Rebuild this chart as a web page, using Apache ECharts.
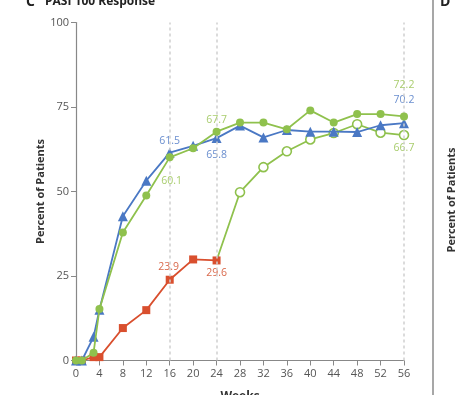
<!DOCTYPE html>
<html>
<head>
<meta charset="utf-8">
<script src="https://cdn.jsdelivr.net/npm/echarts@6/dist/echarts.min.js"></script>
<style>
html,body{margin:0;padding:0;background:#fff;}
#c{width:462px;height:395px;}
</style>
</head>
<body>
<div id="c"></div>
<script>
// ---- data ----
var weeks = [0, 1, 3, 4, 8, 12, 16, 20, 24, 28, 32, 36, 40, 44, 48, 52, 56];
var blueValues = [0, 0, 7, 15, 42.7, 53.2, 61.5, 63.5, 65.8, 69.5, 66.0, 68.2, 67.7, 67.7, 67.6, 69.6, 70.2];
var greenValues = [0, 0, 2.3, 15.2, 37.9, 48.8, 60.1, 62.8, 67.7, 70.4, 70.4, 68.4, 74.0, 70.4, 72.9, 72.9, 72.2];
var redWeeks = [0, 1, 3, 4, 8, 12, 16, 20, 24];
var redValues = [0, 0, 1, 1, 9.6, 14.9, 23.9, 29.9, 29.6];
var openWeeks = [24, 28, 32, 36, 40, 44, 48, 52, 56];
var openValues = [29.6, 49.8, 57.2, 61.9, 65.4, 67.3, 69.9, 67.4, 66.7];
var xTicks = [0, 4, 8, 12, 16, 20, 24, 28, 32, 36, 40, 44, 48, 52, 56];
var yTicks = [0, 25, 50, 75, 100];
var refWeeks = [16, 24, 56];

var FONT = 'Open Sans';
var BLUE = '#4a78c4', GREEN = '#8fc14d', RED = '#d94f2e';
var BLUE_LBL = '#6b8fcf', GREEN_LBL = '#a9cd6e', RED_LBL = '#d9694c';

// label offsets keyed by week (presentation only)
function build(xs, ys, labels, color, extra) {
  return xs.map(function (w, i) {
    var item = { value: [w, ys[i]] };
    if (labels && labels[w]) {
      item.label = {
        show: true, position: 'inside', offset: labels[w],
        formatter: String(ys[i]), color: color, fontSize: 10.5, fontFamily: FONT
      };
    }
    if (extra && extra[i]) Object.assign(item, extra[i]);
    return item;
  });
}

var chart = echarts.init(document.getElementById('c'));
var option = {
  animation: false,
  grid: { left: 76, right: 58, top: 22.5, bottom: 34.5, containLabel: false, outerBoundsMode: 'none' },
  xAxis: {
    type: 'value', min: 0, max: 56, interval: 4,
    name: 'Weeks', nameLocation: 'middle', nameGap: 30,
    nameTextStyle: { fontFamily: FONT, fontWeight: 'bold', fontSize: 12, color: '#333' },
    axisLine: { show: true, onZero: false, lineStyle: { color: '#888', width: 1.2 } },
    axisTick: { show: true, length: 5, lineStyle: { color: '#888' } },
    axisLabel: { margin: 8, fontFamily: FONT, fontSize: 11, color: '#555',
      customValues: xTicks },
    splitLine: { show: false }
  },
  yAxis: {
    type: 'value', min: 0, max: 100, interval: 25,
    name: 'Percent of Patients', nameLocation: 'middle', nameGap: 30, nameRotate: 90,
    nameMoveOverlap: false,
    nameTextStyle: { fontFamily: FONT, fontWeight: 'bold', fontSize: 11, color: '#333' },
    axisLine: { show: true, lineStyle: { color: '#888', width: 1.2 } },
    axisTick: { show: true, length: 5, lineStyle: { color: '#888' } },
    axisLabel: { margin: 7, fontFamily: FONT, fontSize: 11, color: '#555' },
    splitLine: { show: false }
  },
  graphic: [
    { type: 'text', left: 26, top: -5, style: { text: 'C', font: 'bold 14px "Open Sans"', fill: '#222' } },
    { type: 'text', left: 45, top: -4, style: { text: 'PASI 100 Response', font: 'bold 12px "Open Sans"', fill: '#222' } },
    { type: 'line', shape: { x1: 433, y1: 0, x2: 433, y2: 395 }, style: { stroke: '#8a8a8a', lineWidth: 1.5 } },
    { type: 'text', left: 440, top: -5, style: { text: 'D', font: 'bold 14px "Open Sans"', fill: '#222' } },
    { type: 'text', x: 452, y: 200, rotation: Math.PI / 2,
      style: { text: 'Percent of Patients', font: 'bold 11px "Open Sans"', fill: '#333', align: 'center', verticalAlign: 'middle' } }
  ],
  series: [
    {
      type: 'line', name: 'ref', data: [], silent: true,
      markLine: {
        silent: true, symbol: 'none', label: { show: false },
        lineStyle: { type: [3, 3], color: '#cfcfcf', width: 1.5 },
        data: refWeeks.map(function (w) { return { xAxis: w }; })
      }
    },
    {
      type: 'line', name: 'red', z: 3,
      data: build(redWeeks, redValues, { 16: [-1, -13], 24: [0, 13] }, RED_LBL),
      symbol: 'rect', symbolSize: 8,
      lineStyle: { color: RED, width: 1.8 }, itemStyle: { color: RED }
    },
    {
      type: 'line', name: 'open', z: 2,
      data: build(openWeeks, openValues, { 56: [0, 13] }, GREEN_LBL, { 0: { symbol: 'none' } }),
      symbol: 'circle', symbolSize: 9,
      lineStyle: { color: GREEN, width: 1.8 },
      itemStyle: { color: '#fff', borderColor: GREEN, borderWidth: 1.6 }
    },
    {
      type: 'line', name: 'blue', z: 4,
      data: build(weeks, blueValues, { 16: [0, -12], 24: [0, 17], 56: [0, -23] }, BLUE_LBL),
      symbol: 'triangle', symbolSize: 10,
      lineStyle: { color: BLUE, width: 1.8 }, itemStyle: { color: BLUE }
    },
    {
      type: 'line', name: 'green', z: 5,
      data: build(weeks, greenValues, { 16: [2, 24], 24: [0, -12], 56: [0, -31] }, GREEN_LBL),
      symbol: 'circle', symbolSize: 8,
      lineStyle: { color: GREEN, width: 1.8 }, itemStyle: { color: GREEN }
    }
  ]
};
chart.setOption(option);
</script>
</body>
</html>
